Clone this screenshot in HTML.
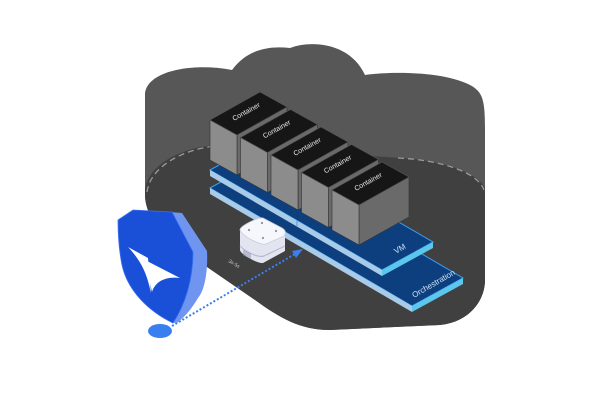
<!DOCTYPE html>
<html><head><style>html,body{margin:0;padding:0;background:#fff;}svg{display:block}</style></head>
<body>
<svg width="600" height="400" viewBox="0 0 600 400" xmlns="http://www.w3.org/2000/svg" font-family="Liberation Sans, sans-serif">
<!-- cloud -->
<path d="M145,95 C145,72 190,62 232,70 C245,52 265,45 290,48 C310,40 350,42 365,75 C385,72 440,70 470,85 C483,92 485,100 485,130 L485,280 C485,300 470,322 440,325 L330,330 C300,330 280,318 255,300 L175,245 C155,230 145,210 145,195 Z" fill="#575757"/>
<path d="M145,190 C148,165 180,148 215,145 L400,158 C440,160 478,172 485,188 L485,280 C485,300 470,322 440,325 L330,330 C300,330 280,318 255,300 L175,245 C155,230 145,210 145,195 Z" fill="#404040"/>
<path d="M147,192 C150,168 180,150 215,146" fill="none" stroke="#9a9a9a" stroke-width="1.3" stroke-dasharray="6,4"/>
<path d="M398,158 C440,160 478,172 484,190" fill="none" stroke="#9a9a9a" stroke-width="1.3" stroke-dasharray="6,4"/>
<!-- orchestration plate -->
<polygon points="210,188 261,160 463,278 412,306" fill="#0d3f7e" stroke="#3aa0ea" stroke-width="1"/>
<polygon points="210,188 412,306 412,312 210,194" fill="#a9cbe8"/>
<polygon points="412,306 463,278 463,284 412,312" fill="#5cc6ec"/>
<text x="0" y="0" transform="translate(414,298) rotate(-30)" fill="#cfe3f7" font-size="8">Orchestration</text>
<!-- VM plate -->
<polygon points="210,170 261,142 433,242 382,270" fill="#0d3f7e" stroke="#3aa0ea" stroke-width="1"/>
<polygon points="210,170 382,270 382,276 210,176" fill="#a9cbe8"/>
<polygon points="382,270 433,242 433,248 382,276" fill="#5cc6ec"/>
<line x1="297" y1="220" x2="297" y2="226" stroke="#3aa0ea"/>
<text x="0" y="0" transform="translate(396,254) rotate(-30)" fill="#cfe3f7" font-size="8">VM</text>
<!-- containers -->
<g id="c">
<polygon points="237,135 287,107 287,147 237,175" fill="#6a6a6a" stroke="#333" stroke-width=".6"/>
<polygon points="210,120 237,135 237,175 210,160" fill="#8c8c8c" stroke="#333" stroke-width=".6"/>
<polygon points="210,120 260,92 287,107 237,135" fill="#161616" stroke="#555" stroke-width=".6"/>
<text transform="translate(234,121) rotate(-29)" fill="#e8e8e8" font-size="7">Container</text>
</g>
<use href="#c" transform="translate(30.5,17.5)"/>
<use href="#c" transform="translate(61,35)"/>
<use href="#c" transform="translate(91.5,52.5)"/>
<use href="#c" transform="translate(122,70)"/>
<!-- device -->
<path d="M240,230 L240,250 C240,254 258,264 263,263 L285,251 L285,230 Z" fill="#e2e4ef"/>
<path d="M240,230 C240,226 258,217 263,218 L282,228 C287,231 286,235 282,237 L266,244 C261,246 242,236 240,230 Z" fill="#f6f7fc" stroke="#c9ccdb" stroke-width=".8"/>
<path d="M240,246 C246,252 258,258 264,256 L285,246" fill="none" stroke="#b8bbd0" stroke-width="1.2"/>
<g fill="#8a8fb0"><circle cx="249" cy="230" r="1.1"/><circle cx="262" cy="223" r="1.1"/><circle cx="276" cy="231" r="1.1"/><circle cx="263" cy="238" r="1.1"/></g>
<g stroke="#7a7fa0" stroke-width=".8"><line x1="244" y1="250" x2="244" y2="256"/><line x1="246" y1="251" x2="246" y2="257"/><line x1="248" y1="252" x2="248" y2="258"/><line x1="250" y1="253" x2="250" y2="259"/></g>
<text transform="translate(228,262) rotate(30)" fill="#ccc" font-size="5">3s·5s</text>
<!-- dotted arrow -->
<line x1="172" y1="326" x2="295" y2="254" stroke="#3a7ff0" stroke-width="2" stroke-dasharray="2,2"/>
<polygon points="303,249 292,251 296,258" fill="#3a7ff0"/>
<ellipse cx="160" cy="331" rx="12" ry="7" fill="#3a7ff0"/>
<!-- shield -->
<path d="M170,212 L182,213 L207,251 C208,270 205,290 198,298 C192,308 186,316 177,323 L173,323 C180,300 192,270 192,252 Z" fill="#6f95f0"/>
<path d="M118,220 L133,210 L172,212 L193,252 C193,280 185,305 173,323 C150,312 128,292 122,265 C119,250 118,235 118,220 Z" fill="#1a50d8" stroke="#3a70f0" stroke-width=".8"/>
<path d="M128,247 L148,258 L151,293 C148,280 145,265 128,247 Z" fill="#fff"/>
<path d="M145,260 L180,278 C165,276 155,282 152,292 Z" fill="#fff"/>
</svg>
</body></html>
